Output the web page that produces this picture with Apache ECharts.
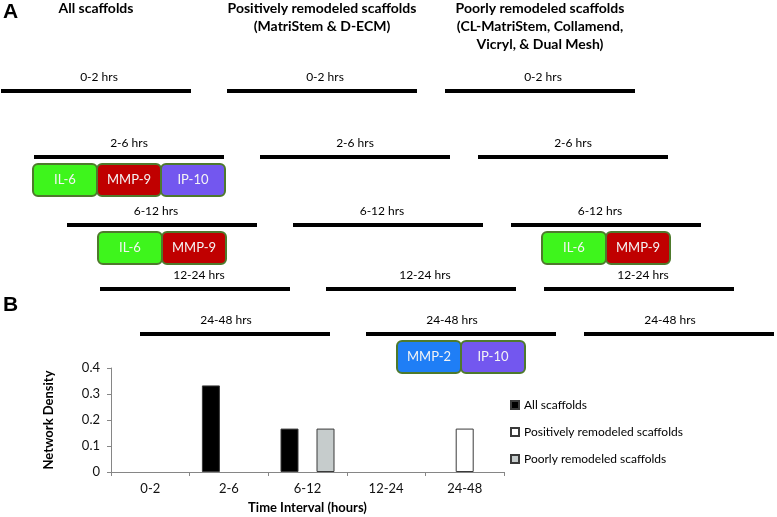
<!DOCTYPE html>
<html><head><meta charset="utf-8">
<script src="https://cdn.jsdelivr.net/npm/echarts@6/dist/echarts.min.js"></script>
<style>html,body{margin:0;padding:0;background:#fff}#c{width:777px;height:517px}</style>
</head><body><div id="c"></div>
<script>
// ---- data ----
const categories = ['0-2', '2-6', '6-12', '12-24', '24-48'];
const allScaffolds = [0, 0.333, 0.167, 0, 0];
const positivelyRemodeled = [0, 0, 0, 0, 0.167];
const poorlyRemodeled = [0, 0, 0.167, 0, 0];
const seriesNames = ['All scaffolds', 'Positively remodeled scaffolds', 'Poorly remodeled scaffolds'];
const yTicks = [0, 0.1, 0.2, 0.3, 0.4];
const intervalLabels = ['0-2 hrs', '2-6 hrs', '6-12 hrs', '12-24 hrs', '24-48 hrs'];
const groupTitles = [
  ['All scaffolds'],
  ['Positively remodeled scaffolds', '(MatriStem & D-ECM)'],
  ['Poorly remodeled scaffolds', '(CL-MatriStem, Collamend,', 'Vicryl, & Dual Mesh)']
];
const allHubs = [[], ['IL-6', 'MMP-9', 'IP-10'], ['IL-6', 'MMP-9'], [], []];
const positiveHubs = [[], [], [], [], ['MMP-2', 'IP-10']];
const poorHubs = [[], [], ['IL-6', 'MMP-9'], [], []];

// ---- layout / style ----
const FONT = 'Lato';
const groupStart = [1, 227, 445];
const rowShift = [0, 33, 66, 99, 139];
const rowY = [91, 157, 225, 289, 334];
const labelDx = [3, 0, -6, 4, -9];
const lineLen = 190, lineThick = 4, boxW = 64, boxH = 32, boxTopGap = 7;
const hubColors = { 'IL-6': '#3ef51c', 'MMP-9': '#c00000', 'IP-10': '#7357ef', 'MMP-2': '#1f7ef6' };

const groupsHubs = [allHubs, positiveHubs, poorHubs];
const lineItems = [];
groupStart.forEach((_, g) => intervalLabels.forEach((__, i) => lineItems.push([g, i])));
const hubItems = [];
groupsHubs.forEach((hubs, g) => hubs.forEach((list, i) => list.forEach((name, k) => hubItems.push({ g, i, k, n: list.length, name }))));

function renderLine(params, api) {
  const g = api.value(0), i = api.value(1);
  const x0 = groupStart[g] + rowShift[i];
  const p0 = api.coord([x0, rowY[i]]);
  const p1 = api.coord([x0 + lineLen, rowY[i]]);
  const cx = (p0[0] + p1[0]) / 2;
  const children = [
    { type: 'rect', shape: { x: p0[0], y: p0[1] - lineThick / 2, width: p1[0] - p0[0], height: lineThick }, style: { fill: '#000' } },
    { type: 'text', style: { text: intervalLabels[i], x: cx + labelDx[i], y: p0[1] - 14, align: 'center', verticalAlign: 'middle', fontSize: 12, fontFamily: FONT, fill: '#000' } }
  ];
  if (i === 0) {
    groupTitles[g].forEach((t, k) => {
      children.push({ type: 'text', style: { text: t, x: cx, y: 8 + 18 * k, align: 'center', verticalAlign: 'middle', fontSize: 14, fontWeight: 'bold', fontFamily: FONT, fill: '#000' } });
    });
  }
  return { type: 'group', children };
}

function renderHub(params, api) {
  const h = hubItems[params.dataIndex];
  const x0 = groupStart[h.g] + rowShift[h.i];
  const cx = x0 + lineLen / 2;
  const left = cx - h.n * boxW / 2 + h.k * boxW;
  const p = api.coord([left, rowY[h.i] + boxTopGap]);
  return {
    type: 'group', children: [
      { type: 'rect', shape: { x: p[0], y: p[1], width: boxW, height: boxH, r: 5 }, style: { fill: hubColors[h.name], stroke: '#4e7a2c', lineWidth: 2 } },
      { type: 'text', style: { text: h.name, x: p[0] + boxW / 2, y: p[1] + boxH / 2, align: 'center', verticalAlign: 'middle', fontSize: 13, fontFamily: FONT, fill: '#f4f4f4' } }
    ]
  };
}

function barSeries(vals, name, fill) {
  return {
    type: 'bar', name, xAxisIndex: 0, yAxisIndex: 0, barWidth: 18, barGap: '0%',
    itemStyle: { color: fill, borderColor: '#3a3a3a', borderWidth: 1 },
    data: vals.map(v => v === 0 ? { value: v, itemStyle: { borderWidth: 0, opacity: 0 } } : v)
  };
}

const chart = echarts.init(document.getElementById('c'));
chart.setOption({
  animation: false,
  backgroundColor: '#fff',
  grid: [
    { left: 111, right: 273, top: 368, bottom: 45 },
    { left: 0, top: 0, width: 777, height: 517 }
  ],
  xAxis: [
    {
      type: 'category', data: categories, gridIndex: 0,
      axisLine: { lineStyle: { color: '#868686', width: 1 } },
      axisTick: { show: true, length: 4, lineStyle: { color: '#868686' } },
      axisLabel: { fontSize: 13, fontFamily: FONT, color: '#111', margin: 10 },
      name: 'Time Interval (hours)', nameLocation: 'middle', nameGap: 29,
      nameTextStyle: { fontSize: 13, fontWeight: 'bold', fontFamily: FONT, color: '#000' }
    },
    { type: 'value', gridIndex: 1, min: 0, max: 777, show: false }
  ],
  yAxis: [
    {
      type: 'value', gridIndex: 0, min: yTicks[0], max: yTicks[yTicks.length - 1], interval: 0.1,
      axisLine: { show: true, lineStyle: { color: '#868686', width: 1 } },
      axisTick: { show: true, length: 4, lineStyle: { color: '#868686' } },
      splitLine: { show: false },
      axisLabel: { fontSize: 13, fontFamily: FONT, color: '#111', margin: 11, formatter: v => String(+v.toFixed(1)) },
      name: 'Network Density', nameLocation: 'middle', nameGap: 56, nameRotate: 90,
      nameTextStyle: { fontSize: 13, fontWeight: 'bold', fontFamily: FONT, color: '#000' }
    },
    { type: 'value', gridIndex: 1, min: 0, max: 517, inverse: true, show: false }
  ],
  legend: {
    data: seriesNames, orient: 'vertical', left: 510, top: 398, padding: 0,
    icon: 'rect', itemWidth: 8, itemHeight: 8, itemGap: 13,
    textStyle: { fontSize: 12, fontFamily: FONT, color: '#000', lineHeight: 14 }
  },
  graphic: [
    { type: 'text', left: 3, top: 2, style: { text: 'A', fontSize: 21, fontWeight: 'bold', fontFamily: 'Liberation Sans', fill: '#000' } },
    { type: 'text', left: 3, top: 295, style: { text: 'B', fontSize: 21, fontWeight: 'bold', fontFamily: 'Liberation Sans', fill: '#000' } }
  ],
  series: [
    barSeries(allScaffolds, seriesNames[0], '#000000'),
    barSeries(positivelyRemodeled, seriesNames[1], '#ffffff'),
    barSeries(poorlyRemodeled, seriesNames[2], '#c6cccc'),
    { type: 'custom', xAxisIndex: 1, yAxisIndex: 1, renderItem: renderLine, data: lineItems, clip: false, silent: true },
    { type: 'custom', xAxisIndex: 1, yAxisIndex: 1, renderItem: renderHub, data: hubItems.map(h => [h.g, h.i]), clip: false, silent: true }
  ]
});
</script></body></html>
